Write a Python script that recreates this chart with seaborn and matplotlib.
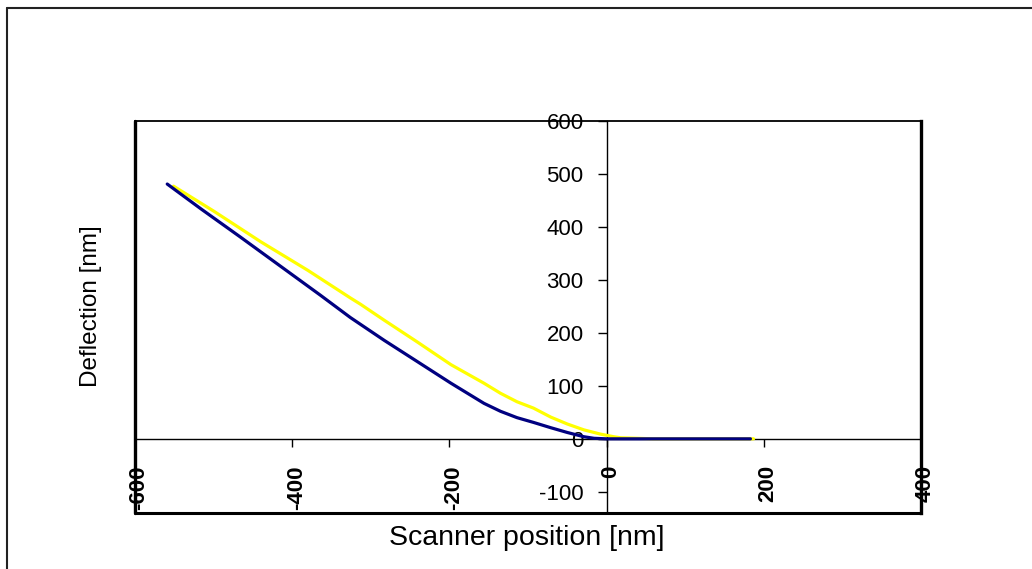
import matplotlib
matplotlib.use("Agg")
import matplotlib.pyplot as plt
import seaborn as sns
import pandas as pd
from matplotlib.lines import Line2D
from matplotlib.transforms import ScaledTranslation

# ---- data ----
navy_x = [-559, -516, -466, -415, -364, -326, -313, -283, -241, -198, -156, -135,
          -114, -93, -71, -50, -29, -16, 0, 50, 100, 150, 183]
navy_y = [481, 434, 381, 326, 271, 229, 216, 186, 146, 105, 67, 52,
          40, 31, 21, 12, 4, 1, 0, 0, 0, 0, 0]

yellow_x = [-551, -500, -440, -380, -326, -313, -283, -241, -198, -156, -135,
            -114, -93, -71, -50, -29, -8, 9, 18, 60, 120, 187]
yellow_y = [477, 430, 372, 318, 266, 254, 224, 183, 140, 105, 86,
            70, 58, 41, 28, 17, 9, 4, 2, 0, 0, 0]

x_ticks = [-600, -400, -200, 0, 200, 400]
y_ticks = [-100, 0, 100, 200, 300, 400, 500, 600]
x_label = "Scanner position [nm]"
y_label = "Deflection [nm]"

# ---- style ----
sns.set_style("white")
plt.rcParams["font.family"] = ["Liberation Sans", "DejaVu Sans"]
plt.rcParams["axes.unicode_minus"] = False
for k in ["text.color", "axes.labelcolor", "xtick.color", "ytick.color"]:
    plt.rcParams[k] = "black"

W, H = 1032, 569
fig = plt.figure(figsize=(W / 100, H / 100), dpi=100)
fig.patch.set_facecolor("white")
ax = fig.add_axes([135 / W, (H - 513) / H, 786 / W, 392 / H])
ax.set_facecolor("white")

df_y = pd.DataFrame({"x": yellow_x, "y": yellow_y})
df_n = pd.DataFrame({"x": navy_x, "y": navy_y})
sns.lineplot(data=df_y, x="x", y="y", sort=False, estimator=None,
             color="#FFFF00", linewidth=2.3, ax=ax)
sns.lineplot(data=df_n, x="x", y="y", sort=False, estimator=None,
             color="#000080", linewidth=2.3, ax=ax)

ax.set_xlim(-600, 400)
ax.set_ylim(-140, 600)
ax.set_xticks(x_ticks)
ax.set_yticks(y_ticks)

# axes crossing at zero
ax.spines["left"].set_position(("data", 0))
ax.spines["bottom"].set_position(("data", 0))
for s in ["left", "bottom"]:
    ax.spines[s].set_linewidth(1.0)
    ax.spines[s].set_color("black")
    ax.spines[s].set_zorder(1)
ax.spines["top"].set_linewidth(1.3)
ax.spines["top"].set_color("black")
ax.spines["right"].set_linewidth(2.4)
ax.spines["right"].set_color("black")

# left and bottom edges of the plot frame
ax.add_line(Line2D([0, 0], [0, 1], transform=ax.transAxes, color="black",
                   linewidth=2.4, clip_on=False))
ax.add_line(Line2D([0, 1], [0, 0], transform=ax.transAxes, color="black",
                   linewidth=2.2, clip_on=False))

ax.tick_params(axis="y", direction="out", length=6.5, width=1, pad=10,
               labelsize=16, left=True, colors="black")
ax.tick_params(axis="x", direction="out", length=6, width=1, pad=13,
               labelsize=16, labelrotation=90, bottom=True, colors="black")
for lbl in ax.get_xticklabels():
    lbl.set_fontweight("bold")
    lbl.set_transform(lbl.get_transform() + ScaledTranslation(4 / 100, 0, fig.dpi_scale_trans))

ax.set_xlabel(x_label, fontsize=20.5, va="center", ha="center")
ax.xaxis.set_label_coords(0.4987, -0.064)
ax.set_ylabel(y_label, fontsize=17.5, va="center", ha="center")
ax.yaxis.set_label_coords(-0.056, 0.528)
ax.grid(False)

# outer chart border (left and top visible)
fig.add_artist(Line2D([7 / W, 7 / W], [0, 1 - 8 / H], transform=fig.transFigure,
                      color="#222222", linewidth=1.5))
fig.add_artist(Line2D([7 / W, 1], [1 - 8 / H, 1 - 8 / H], transform=fig.transFigure,
                      color="#222222", linewidth=1.5))

fig.savefig("out.png", dpi=100, facecolor="white")
